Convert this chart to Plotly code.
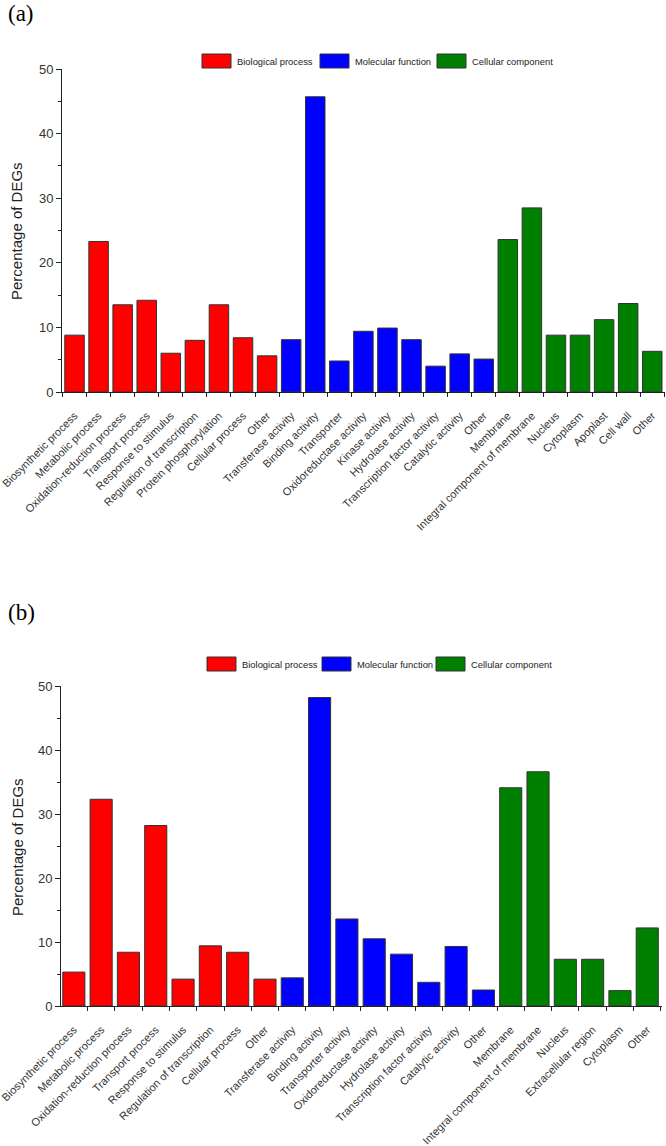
import plotly.graph_objects as go

W, H = 666, 1146

# ---- panel (a) data ----
a_bio_labels = ["Biosynthetic process", "Metabolic process", "Oxidation-reduction process",
                "Transport process", "Response to stimulus", "Regulation of transcription",
                "Protein phosphorylation", "Cellular process", "Other"]
a_bio_values = [8.8, 23.3, 13.5, 14.2, 6.0, 8.0, 13.5, 8.4, 5.6]
a_mol_labels = ["Transferase activity", "Binding activity", "Transporter", "Oxidoreductase activity",
                "Kinase activity", "Hydrolase activity", "Transcription factor activity",
                "Catalytic activity", "Other"]
a_mol_values = [8.1, 45.7, 4.8, 9.4, 9.9, 8.1, 4.0, 5.9, 5.1]
a_cel_labels = ["Membrane", "Integral component of membrane", "Nucleus", "Cytoplasm",
                "Apoplast", "Cell wall", "Other"]
a_cel_values = [23.6, 28.5, 8.8, 8.8, 11.2, 13.7, 6.3]

# ---- panel (b) data ----
b_bio_labels = ["Biosynthetic process", "Metabolic process", "Oxidation-reduction process",
                "Transport process", "Response to stimulus", "Regulation of transcription",
                "Cellular process", "Other"]
b_bio_values = [5.3, 32.3, 8.4, 28.2, 4.2, 9.4, 8.4, 4.2]
b_mol_labels = ["Transferase activity", "Binding activity", "Transporter activity",
                "Oxidoreductase activity", "Hydrolase activity", "Transcription factor activity",
                "Catalytic activity", "Other"]
b_mol_values = [4.4, 48.2, 13.6, 10.5, 8.1, 3.7, 9.3, 2.5]
b_cel_labels = ["Membrane", "Integral component of membrane", "Nucleus", "Extracellular region",
                "Cytoplasm", "Other"]
b_cel_values = [34.1, 36.6, 7.3, 7.3, 2.4, 12.2]

group_names = ["Biological process", "Molecular function", "Cellular component"]
group_colors = ["#FF0000", "#0000FF", "#008000"]

FONT = "Arial, Liberation Sans, sans-serif"
AXIS_COLOR = "#222222"


def px_x(x):
    return x / W


def px_y(y):
    return 1 - y / H


fig = go.Figure()


def add_panel(groups, xref, yref):
    # groups: list of (labels, values); bars laid out one after another
    labels_all = []
    start = 0
    for (labels, values), color, name in zip(groups, group_colors, group_names):
        xs = list(range(start, start + len(values)))
        fig.add_trace(go.Bar(
            x=xs, y=values, name=name, xaxis=xref, yaxis=yref,
            marker=dict(color=color, line=dict(color="#333333", width=1)),
            showlegend=False,
        ))
        labels_all += labels
        start += len(values)
    return labels_all


labels_a = add_panel([(a_bio_labels, a_bio_values), (a_mol_labels, a_mol_values),
                      (a_cel_labels, a_cel_values)], "x", "y")
labels_b = add_panel([(b_bio_labels, b_bio_values), (b_mol_labels, b_mol_values),
                      (b_cel_labels, b_cel_values)], "x2", "y2")


def x_axis(labels, domain, rng, anchor):
    # major ticks are invisible, only used to push the labels down;
    # the visible ticks sit on the bar boundaries (minor ticks)
    return dict(
        domain=domain, range=rng, anchor=anchor, automargin=False,
        tickmode="array", tickvals=list(range(len(labels))), ticktext=labels,
        tickangle=-45, ticks="outside", ticklen=12, tickcolor="rgba(0,0,0,0)",
        showgrid=False, zeroline=False, ticklabeloverflow="allow",
        showline=True, linecolor=AXIS_COLOR, linewidth=1,
        tickfont=dict(family=FONT, size=11, color="#333333"),
        minor=dict(tickmode="linear", tick0=-0.5, dtick=1, ticks="outside",
                   ticklen=4, tickcolor=AXIS_COLOR, showgrid=False),
    )


def y_axis(domain, anchor):
    return dict(
        domain=domain, range=[0, 50], anchor=anchor, automargin=False,
        tickmode="linear", tick0=0, dtick=10, ticks="outside", ticklen=5,
        tickcolor=AXIS_COLOR, showgrid=False, zeroline=False,
        showline=True, linecolor=AXIS_COLOR, linewidth=1,
        tickfont=dict(family=FONT, size=13, color="#333333"),
        minor=dict(tickmode="linear", tick0=5, dtick=10, ticks="outside",
                   ticklen=3, tickcolor=AXIS_COLOR, showgrid=False),
    )


fig.update_layout(
    width=W, height=H, autosize=False,
    margin=dict(l=0, r=0, t=0, b=0),
    paper_bgcolor="white", plot_bgcolor="white",
    barmode="overlay", bargap=0.19,
    showlegend=False,
    xaxis=x_axis(labels_a, [px_x(62), px_x(665)], [-0.52, 24.53], "y"),
    yaxis=y_axis([px_y(392), px_y(69)], "x"),
    xaxis2=x_axis(labels_b, [px_x(61), px_x(662)], [-0.47, 21.54], "y2"),
    yaxis2=y_axis([px_y(1006), px_y(686)], "x2"),
)

annotations = []
shapes = []

# panel labels and y-axis titles
for text, y in [("(a)", 14), ("(b)", 612)]:
    annotations.append(dict(text=text, x=px_x(6), y=px_y(y), xref="paper", yref="paper",
                            xanchor="left", yanchor="middle", showarrow=False,
                            font=dict(family="Liberation Serif, Times New Roman, serif",
                                      size=23, color="black")))
for y in [231, 847]:
    annotations.append(dict(text="Percentage of DEGs", x=px_x(17), y=px_y(y),
                            xref="paper", yref="paper", textangle=-90,
                            xanchor="center", yanchor="middle", showarrow=False,
                            font=dict(family=FONT, size=15, color="#222222")))

# legend keys (drawn as boxes with labels, one row per panel)
legend_rows = [
    (61, [202, 320, 437]),
    (664, [207, 322, 436]),
]
for yc, box_lefts in legend_rows:
    for left, name, color in zip(box_lefts, group_names, group_colors):
        shapes.append(dict(type="rect", xref="paper", yref="paper",
                           x0=px_x(left), x1=px_x(left + 29),
                           y0=px_y(yc + 7), y1=px_y(yc - 7),
                           fillcolor=color, line=dict(color="#333333", width=1)))
        annotations.append(dict(text=name, x=px_x(left + 33), y=px_y(yc),
                                xref="paper", yref="paper", xanchor="left",
                                yanchor="middle", showarrow=False,
                                font=dict(family=FONT, size=9.4, color="#222222")))

fig.update_layout(annotations=annotations, shapes=shapes)

fig.write_html(
    "out.html",
    config={"displayModeBar": False},
    post_script="document.body.style.margin='0';document.body.style.overflow='hidden';",
)
